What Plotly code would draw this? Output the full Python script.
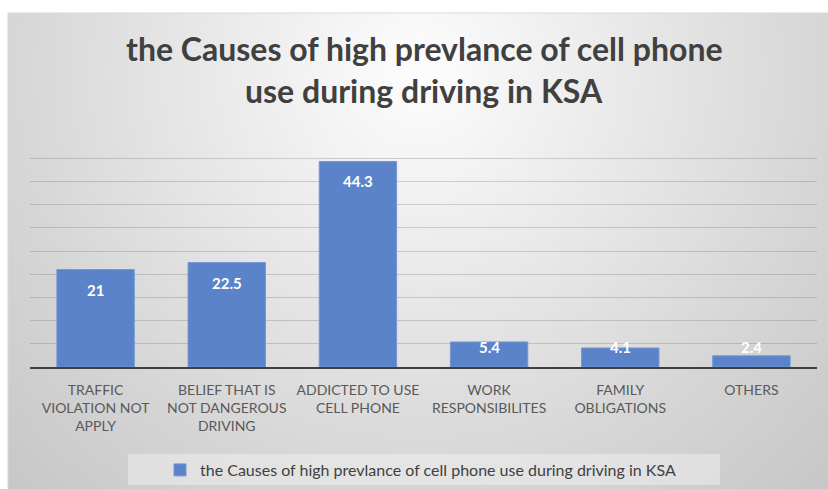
import base64
import plotly.graph_objects as go

# ---- data ----
categories = [
    "TRAFFIC<br>VIOLATION NOT<br>APPLY",
    "BELIEF THAT IS<br>NOT DANGEROUS<br>DRIVING",
    "ADDICTED TO USE<br>CELL PHONE",
    "WORK<br>RESPONSIBILITES",
    "FAMILY<br>OBLIGATIONS",
    "OTHERS",
]
values = [21, 22.5, 44.3, 5.4, 4.1, 2.4]
series_name = "the Causes of high prevlance of cell phone use during driving in KSA"
title_lines = ["the Causes of high prevlance of cell phone", "use during driving in KSA"]

# ---- page geometry ----
W, H = 828, 489
ML, MR, MT, MB = 30, 11, 135, 122
PW, PH = W - ML - MR, H - MT - MB


def paper_x(px):
    return (px - ML) / PW


def paper_y(py):
    return (H - MB - py) / PH


FONT = "Lato"
BAR_COLOR = "#5B83C9"
TEXT_DARK = "#404040"

# soft radial background of the chart box
box_l, box_t = 8, 13
box_w, box_h = W - box_l, H - box_t
svg = f"""<svg xmlns='http://www.w3.org/2000/svg' width='{box_w}' height='{box_h}' viewBox='0 0 {box_w} {box_h}' preserveAspectRatio='none'>
<defs><radialGradient id='g' gradientUnits='userSpaceOnUse' cx='410' cy='60' r='580'>
<stop offset='0' stop-color='#fdfdfd'/><stop offset='0.7' stop-color='#d6d6d6'/><stop offset='1' stop-color='#c7c7c7'/>
</radialGradient></defs>
<rect x='0' y='0' width='{box_w}' height='{box_h}' fill='url(#g)'/></svg>"""
bg_src = "data:image/svg+xml;base64," + base64.b64encode(svg.encode()).decode()

fig = go.Figure()
fig.add_trace(go.Bar(
    x=categories,
    y=values,
    name=series_name,
    marker=dict(color=BAR_COLOR, line=dict(color="#7397d6", width=1)),
    showlegend=True,
    hoverinfo="x+y",
))

# white value labels just inside the top of each bar (kept off the axis for short bars)
for cat, v in zip(categories, values):
    fig.add_annotation(
        x=cat, y=max(v, 8.6), yshift=-20,
        text=f"{v:g}", showarrow=False,
        font=dict(family=FONT, size=15, color="white", weight="bold"),
        yanchor="middle",
    )

# two-line chart title
for line, py in zip(title_lines, [48, 91]):
    fig.add_annotation(
        xref="paper", yref="paper", x=paper_x(424), y=paper_y(py),
        text=line, showarrow=False, xanchor="center", yanchor="middle",
        font=dict(family=FONT, size=32, color=TEXT_DARK, weight="bold"),
    )

fig.update_layout(
    width=W, height=H,
    margin=dict(l=ML, r=MR, t=MT, b=MB, pad=0),
    paper_bgcolor="white",
    plot_bgcolor="rgba(0,0,0,0)",
    bargap=0.41,
    font=dict(family=FONT, color=TEXT_DARK),
    images=[dict(
        source=bg_src, xref="paper", yref="paper",
        x=paper_x(box_l), y=paper_y(box_t),
        sizex=box_w / PW, sizey=box_h / PH,
        xanchor="left", yanchor="top", sizing="stretch", layer="below",
    )],
    shapes=[
        dict(type="rect", xref="paper", yref="paper", layer="below",
             x0=paper_x(box_l), x1=paper_x(W + 2), y0=paper_y(H + 2), y1=paper_y(box_t),
             line=dict(color="#d9d9d9", width=1), fillcolor="rgba(0,0,0,0)"),
        dict(type="rect", xref="paper", yref="paper", layer="below",
             x0=paper_x(128), x1=paper_x(720), y0=paper_y(485), y1=paper_y(454),
             line=dict(width=0), fillcolor="rgba(255,255,255,0.35)"),
    ],
    # legend placed in container coordinates so it does not shrink the plot area
    legend=dict(
        orientation="h", xref="container", yref="container",
        xanchor="left", yanchor="middle",
        x=160 / W, y=(H - 470) / H,
        bgcolor="rgba(0,0,0,0)",
        font=dict(family=FONT, size=16, color=TEXT_DARK),
        itemwidth=30,
    ),
    xaxis=dict(
        showline=True, linecolor="#3f3f3f", linewidth=2,
        showgrid=False, ticks="", ticklabelstandoff=9,
        tickfont=dict(family=FONT, size=14, color="#595959"),
        fixedrange=True,
    ),
    yaxis=dict(
        range=[0, 50], dtick=5, showticklabels=False,
        showgrid=True, gridcolor="rgba(90,90,90,0.25)", gridwidth=1,
        zeroline=False, showline=False, fixedrange=True,
    ),
)

fig.write_html("out.html")
